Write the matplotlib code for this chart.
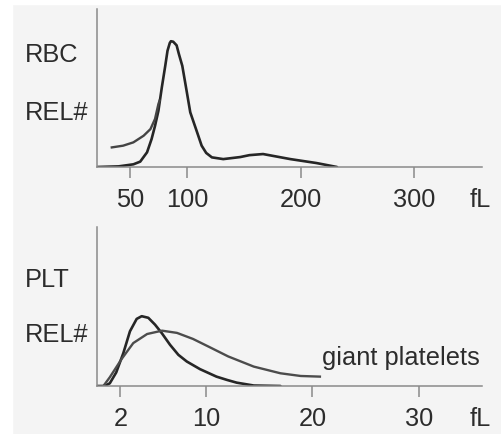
import matplotlib
matplotlib.use("Agg")
import matplotlib.pyplot as plt
from matplotlib.patches import Rectangle

# RBC histogram (fL vs relative number)
rbc_fl = [21, 40, 53, 59, 65, 69, 72, 75, 78, 81, 83, 85, 86, 88, 91, 93, 96, 100, 103, 109,
          113, 117, 122, 132, 147, 155, 167, 191, 214, 232]
rbc_rel = [0, 0.4, 1.7, 3.4, 9.3, 17.7, 26, 35.6, 50.4, 64, 73.6, 78.5, 79.6, 79.3, 77, 71.5, 64, 47.3, 34.6, 22,
           13.5, 8.9, 6.1, 5, 6.3, 7.5, 8.2, 5, 2.5, 0]
rbc_branch_fl = [34, 44, 53, 62, 68, 72, 75, 76]
rbc_branch_rel = [12.4, 13.5, 15.6, 19.8, 24, 30.4, 39.9, 42]
rbc_ticks = [50, 100, 200, 300]

# PLT histogram
plt_fl = [-0.2, 0.5, 1.0, 1.6, 2.27, 2.89, 3.52, 3.99, 4.61, 5.24, 5.87, 6.65, 7.43, 8.22, 9.46,
          11.0, 12.0, 12.9, 14.5, 17.0]
plt_rel = [0, 0, 1.7, 8.5, 20.7, 34.4, 42.2, 43.9, 42.9, 38.6, 33.3, 25.9, 19.6, 15.4, 10.6,
           5.9, 3.8, 2.1, 0.3, 0]
giant_fl = [0.4, 1.0, 2.1, 3.2, 4.5, 5.9, 7.3, 8.8, 10.4, 12.1, 14.5, 17.0, 18.9, 20.7]
giant_rel = [0, 5.5, 16.9, 27, 32.7, 34.8, 33.4, 29.6, 24.3, 18.6, 12.2, 8.0, 6.3, 5.9]
plt_ticks = [2, 10, 20, 30]

W, H = 501, 435
fig = plt.figure(figsize=(W / 100, H / 100), dpi=100, facecolor="#f4f4f4")
# white scan border
fig.patches.append(Rectangle((0, 0), 12 / W, 1, transform=fig.transFigure, color="white", zorder=0))
fig.patches.append(Rectangle((0, 1 - 5 / H), 1, 5 / H, transform=fig.transFigure, color="white", zorder=0))

txt = "#2c2c2c"
axc = "#8a8a8a"
fs = 18.3
tick_len = 8
tick_pad = 6.5
plt.rcParams['font.family'] = ['Liberation Sans', 'DejaVu Sans']


def px_axes(left, right, top, bottom):
    return fig.add_axes([left / W, 1 - bottom / H, (right - left) / W, (bottom - top) / H])


def style(ax, ticks):
    ax.set_facecolor("none")
    for s in ["top", "right"]:
        ax.spines[s].set_visible(False)
    for s in ["left", "bottom"]:
        ax.spines[s].set_color(axc)
        ax.spines[s].set_linewidth(1.1)
    ax.set_yticks([])
    ax.set_xticks(ticks)
    ax.set_xticklabels([str(t) for t in ticks])
    ax.tick_params(axis="x", length=tick_len, width=1.1, color=axc, pad=tick_pad, labelsize=fs, labelcolor=txt)
    ax.set_ylim(0, 100)
    # unit label in line with the tick labels
    ax.annotate("fL", xy=(1, 0), xycoords="axes fraction", xytext=(-1, -(tick_len + tick_pad)),
                textcoords="offset points", ha="center", va="top", fontsize=fs, color=txt)


ax1 = px_axes(97, 482, 10, 168)
ax1.plot(rbc_fl, rbc_rel, color="#262626", lw=1.9, solid_joinstyle="round", solid_capstyle="round")
ax1.plot(rbc_branch_fl, rbc_branch_rel, color="#444444", lw=1.7, solid_joinstyle="round")
ax1.set_xlim(21, 359.5)
style(ax1, rbc_ticks)

ax2 = px_axes(97, 482, 228, 387)
ax2.plot(plt_fl, plt_rel, color="#262626", lw=1.9, solid_joinstyle="round", solid_capstyle="round")
ax2.plot(giant_fl, giant_rel, color="#4c4c4c", lw=1.7, solid_joinstyle="round")
ax2.set_xlim(-0.2, 35.9)
style(ax2, plt_ticks)
ax2.text(20.9, 18.4, "giant platelets", fontsize=fs, color=txt, ha="left", va="center")

fig.text(25 / W, 1 - 55 / H, "RBC", fontsize=fs, color=txt, ha="left", va="center")
fig.text(25 / W, 1 - 113 / H, "REL#", fontsize=fs, color=txt, ha="left", va="center")
fig.text(25 / W, 1 - 280 / H, "PLT", fontsize=fs, color=txt, ha="left", va="center")
fig.text(25 / W, 1 - 335 / H, "REL#", fontsize=fs, color=txt, ha="left", va="center")

fig.savefig("out.png", dpi=100, facecolor=fig.get_facecolor())
